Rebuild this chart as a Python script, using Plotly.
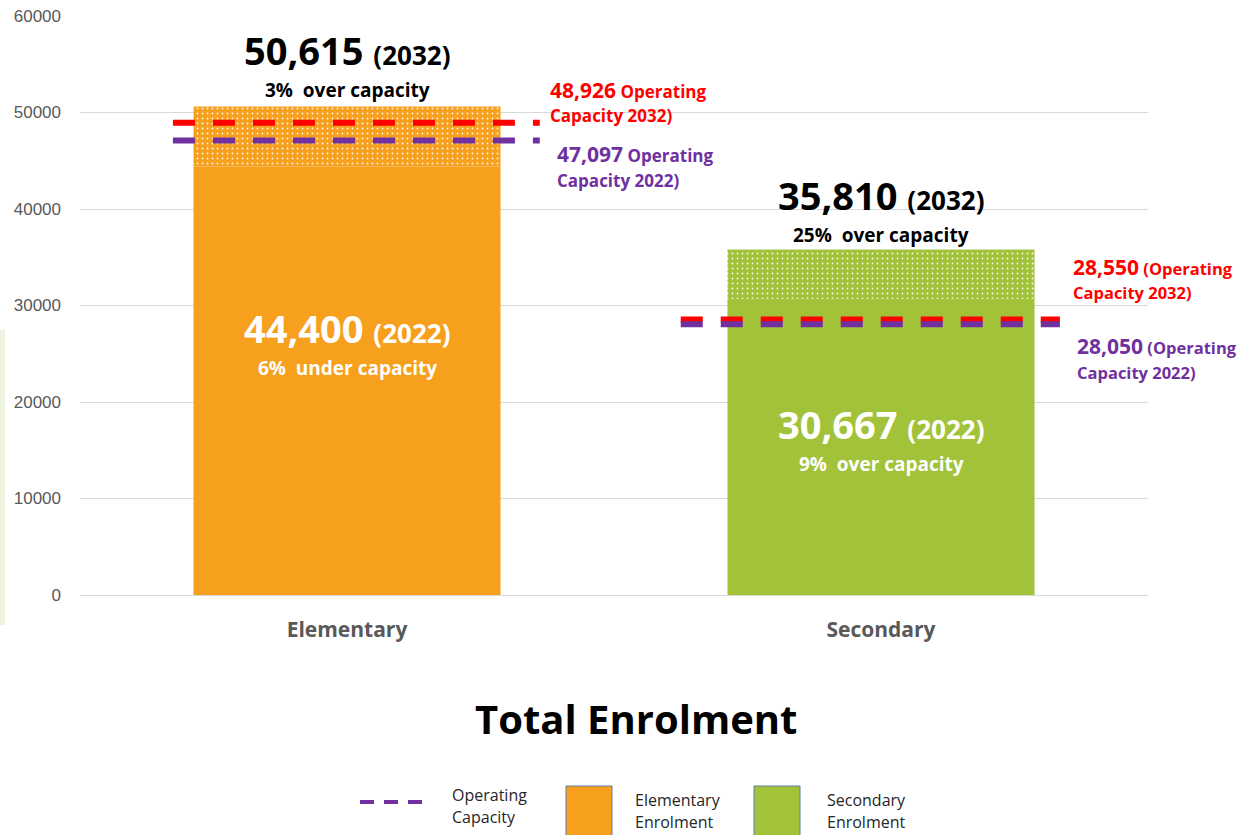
import plotly.graph_objects as go

# ---------------- data ----------------
categories = ["Elementary", "Secondary"]
enrol_2022 = [44400, 30667]
enrol_2032 = [50615, 35810]
capacity_2022 = [47097, 28050]
capacity_2032 = [48926, 28550]
y_ticks = [0, 10000, 20000, 30000, 40000, 50000, 60000]
legend_labels = ["Operating<br>Capacity", "Elementary<br>Enrolment", "Secondary<br>Enrolment"]

# ---------------- styles ----------------
bar_colors = ["#F7A01E", "#A2C23A"]
red = "#FF0000"
purple = "#7030A0"
FONT = "Open Sans"
W, H = 1243, 835
ML, MR, MT, MB = 80, 95, 16, 240
PW, PH = W - ML - MR, H - MT - MB

def px_x(px):
    return (px - ML) / PW

def px_y(py):
    return (H - MB - py) / PH

xs = list(range(len(categories)))
fig = go.Figure()

for i in xs:
    # solid 2022 part
    fig.add_trace(go.Bar(
        x=[xs[i]], y=[enrol_2022[i]], width=0.575,
        marker=dict(color=bar_colors[i], line=dict(width=0)),
        showlegend=False, hoverinfo="skip"))
    # dotted growth to 2032
    fig.add_trace(go.Bar(
        x=[xs[i]], y=[enrol_2032[i] - enrol_2022[i]], base=[enrol_2022[i]], width=0.575,
        marker=dict(color=bar_colors[i], line=dict(width=0),
                    pattern=dict(shape=".", fgcolor="#FFFFFF", fgopacity=0.9, bgcolor=bar_colors[i],
                                 size=5, solidity=0.1, fillmode="replace")),
        showlegend=False, hoverinfo="skip"))

# capacity lines
ext_left = [0.326, 0.375]
ext_right = [0.361, 0.335]
for i in xs:
    for vals, col in ((capacity_2032, red), (capacity_2022, purple)):
        fig.add_trace(go.Scatter(
            x=[i - ext_left[i], i + ext_right[i]], y=[vals[i], vals[i]], mode="lines",
            line=dict(color=col, width=6, dash="22px,18px"),
            showlegend=False, hoverinfo="skip"))

ann = []
def A(x, y, text, size, color, xanchor="center", yshift=0, xref="x", yref="y", weight="bold"):
    ann.append(dict(x=x, y=y, xref=xref, yref=yref, text=text, showarrow=False,
                    xanchor=xanchor, yanchor="middle", yshift=yshift,
                    font=dict(family=FONT, size=size, color=color, weight=weight)))

def pct_text(val, cap):
    p = round((val / cap - 1) * 100)
    return f"{abs(p)}%  {'over' if p >= 0 else 'under'} capacity"

# top labels (2032)
top_shift = [57, 54]
pct_shift = [17, 14]
for i in xs:
    A(i, enrol_2032[i],
      f"{enrol_2032[i]:,} <span style='font-size:26px'>(2032)</span>", 38, "black", yshift=top_shift[i])
    A(i, enrol_2032[i], pct_text(enrol_2032[i], capacity_2032[i]), 19, "black", yshift=pct_shift[i])

# inner labels (2022)
inner_y = [27668, 17720]
for i in xs:
    A(i, inner_y[i], f"{enrol_2022[i]:,} <span style='font-size:26px'>(2022)</span>", 38, "white")
    A(i, inner_y[i], pct_text(enrol_2022[i], capacity_2022[i]), 19, "white", yshift=-40)

# capacity side labels
A(0.376, capacity_2032[0], f"<span style='font-size:21px'>{capacity_2032[0]:,}</span> Operating", 17, red, "left", 33)
A(0.376, capacity_2032[0], "Capacity 2032)", 17, red, "left", 7)
A(0.389, capacity_2022[0], f"<span style='font-size:21px'>{capacity_2022[0]:,}</span> Operating", 17, purple, "left", -13)
A(0.389, capacity_2022[0], "Capacity 2022)", 17, purple, "left", -40)
A(1.356, capacity_2032[1], f"<span style='font-size:21px'>{capacity_2032[1]:,}</span> (Operating", 16.5, red, "left", 52)
A(1.356, capacity_2032[1], "Capacity 2032)", 16.5, red, "left", 27)
A(1.363, capacity_2022[1], f"<span style='font-size:21px'>{capacity_2022[1]:,}</span> (Operating", 16.5, purple, "left", -22)
A(1.363, capacity_2022[1], "Capacity 2022)", 16.5, purple, "left", -48)

# title
A(px_x(636), px_y(718), "Total Enrolment", 40, "black", xref="paper", yref="paper")

# legend (drawn)
shapes = []
shapes.append(dict(type="line", xref="paper", yref="paper", x0=px_x(360), x1=px_x(432),
                   y0=px_y(802), y1=px_y(802), line=dict(color=purple, width=4, dash="14px,10px")))
for (x0, col) in ((566, bar_colors[0]), (754, bar_colors[1])):
    shapes.append(dict(type="rect", xref="paper", yref="paper", x0=px_x(x0), x1=px_x(x0 + 46),
                       y0=px_y(840), y1=px_y(786), fillcolor=col, line=dict(color="#5B7FA6", width=1)))
shapes.append(dict(type="rect", xref="paper", yref="paper", x0=px_x(0), x1=px_x(5),
                   y0=px_y(625), y1=px_y(330), fillcolor="#EEF3E0", line=dict(width=0), layer="below"))
for (lx, txt) in ((450, legend_labels[0]), (633, legend_labels[1]), (825, legend_labels[2])):
    l1, l2 = txt.split("<br>")
    ly = 795 if lx == 450 else 800
    A(px_x(lx), px_y(ly), l1, 16, "#262626", "left", xref="paper", yref="paper", weight="normal")
    A(px_x(lx), px_y(ly + 22), l2, 16, "#262626", "left", xref="paper", yref="paper", weight="normal")

fig.update_layout(
    width=W, height=H,
    margin=dict(l=ML, r=MR, t=MT, b=MB),
    paper_bgcolor="white", plot_bgcolor="white",
    barmode="overlay", showlegend=False,
    annotations=ann, shapes=shapes,
    font=dict(family=FONT),
    xaxis=dict(range=[-0.5, 1.5], tickvals=xs, ticktext=categories, showgrid=False, zeroline=False,
               showline=False, ticks="", ticklabelstandoff=20, automargin=False,
               tickfont=dict(family=FONT, size=21, color="#595959", weight="bold"), fixedrange=True),
    yaxis=dict(range=[0, 60000], tickvals=y_ticks, tickformat="d", showgrid=True, gridcolor="#D9D9D9",
               gridwidth=1, zeroline=True, zerolinecolor="#D9D9D9", zerolinewidth=1, showline=False,
               ticks="", ticklabelstandoff=18, automargin=False,
               tickfont=dict(family="Liberation Sans", size=17, color="#595959"), fixedrange=True),
)

fig.write_html("out.html", config={"displayModeBar": False},
               post_script="document.body.style.margin='0px';")
